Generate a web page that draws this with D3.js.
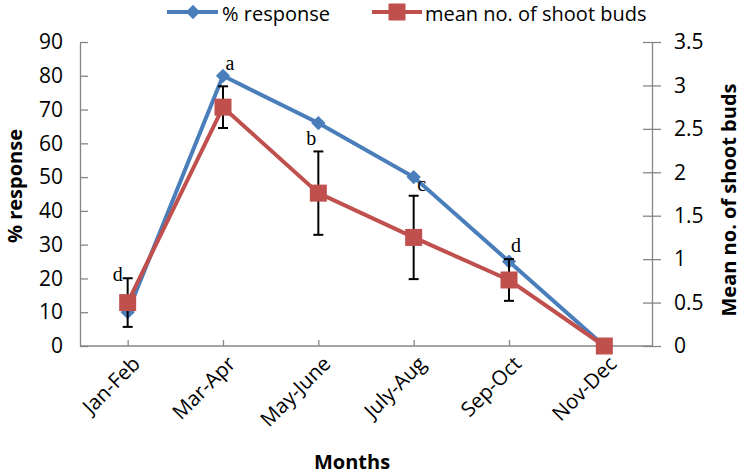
<!DOCTYPE html>
<html>
<head>
<meta charset="utf-8">
<script src="https://cdn.jsdelivr.net/npm/d3@7"></script>
<style>
  body { margin: 0; background: #fff; }
  text { font-family: "Open Sans", "Noto Sans", sans-serif; }
</style>
</head>
<body>
<script>
var months = ["Jan-Feb", "Mar-Apr", "May-June", "July-Aug", "Sep-Oct", "Nov-Dec"];
var response = [10, 80, 66, 50, 25, 0];
var shootBuds = [0.5, 2.75, 1.76, 1.25, 0.76, 0];
var shootErr = [0.28, 0.24, 0.48, 0.48, 0.24, 0];
var letters = ["d", "a", "b", "c", "d", ""];
var leftTicks = [0, 10, 20, 30, 40, 50, 60, 70, 80, 90];
var rightTicks = [0, 0.5, 1, 1.5, 2, 2.5, 3, 3.5];

var W = 742, H = 474;
var plotLeft = 80, plotRight = 652, plotTop = 42, plotBottom = 346;
var blue = "#4a7ebb", red = "#c0504d", grey = "#868686";

var svg = d3.select("body").append("svg")
    .attr("width", W).attr("height", H);

var x = d3.scalePoint().domain(months).range([plotLeft, plotRight]).padding(0.5);
var yL = d3.scaleLinear().domain([0, 90]).range([plotBottom, plotTop]);
var yR = d3.scaleLinear().domain([0, 3.5]).range([plotBottom, plotTop]);

// left axis
var gL = svg.append("g").attr("transform", "translate(" + plotLeft + ",0)")
    .call(d3.axisLeft(yL).tickValues(leftTicks).tickSizeInner(8).tickSizeOuter(0).tickPadding(9));
gL.selectAll(".tick line").attr("x2", 8);
gL.selectAll(".tick text").attr("font-size", 21).attr("fill", "#000")
    .style("font-family", "'Open Sans', sans-serif");

// right axis
var gR = svg.append("g").attr("transform", "translate(" + plotRight + ",0)")
    .call(d3.axisRight(yR).tickValues(rightTicks).tickFormat(function(d) { return String(d); })
      .tickSizeInner(9).tickSizeOuter(0).tickPadding(13));
gR.selectAll(".tick line").attr("x1", -9);
gR.selectAll(".tick text").attr("font-size", 21).attr("fill", "#000")
    .style("font-family", "'Open Sans', sans-serif");

// bottom axis
var gX = svg.append("g").attr("transform", "translate(0," + plotBottom + ")")
    .call(d3.axisBottom(x).tickSizeInner(-6).tickSizeOuter(0).tickPadding(10));
gX.select(".domain").attr("d", "M" + plotLeft + ",0H" + plotRight);
gX.selectAll(".tick text")
    .attr("font-size", 20.5).attr("fill", "#000")
    .style("font-family", "'Open Sans', sans-serif")
    .attr("text-anchor", "end")
    .attr("transform", "translate(8,14) rotate(-45)")
    .attr("dy", "0.35em").attr("y", 0).attr("x", 0);

svg.selectAll(".domain, .tick line").attr("stroke", grey).attr("stroke-width", 1.3);

// axis titles
svg.append("text")
    .attr("transform", "translate(22,186) rotate(-90)")
    .attr("text-anchor", "middle")
    .attr("font-size", 20).attr("font-weight", "bold")
    .text("% response");

svg.append("text")
    .attr("transform", "translate(736,200) rotate(-90)")
    .attr("text-anchor", "middle")
    .attr("font-size", 20).attr("font-weight", "bold")
    .text("Mean no. of shoot buds");

svg.append("text")
    .attr("x", 352).attr("y", 469)
    .attr("text-anchor", "middle")
    .attr("font-size", 20).attr("font-weight", "bold")
    .text("Months");

// response line
var lineL = d3.line().x(function(d, i) { return x(months[i]); }).y(function(d) { return yL(d); });
var lineR = d3.line().x(function(d, i) { return x(months[i]); }).y(function(d) { return yR(d); });

svg.append("path").datum(response)
    .attr("d", lineL).attr("fill", "none")
    .attr("stroke", blue).attr("stroke-width", 4);

svg.selectAll(".diamond").data(response).enter().append("path")
    .attr("class", "diamond")
    .attr("d", d3.symbol().type(d3.symbolDiamond2).size(130))
    .attr("transform", function(d, i) { return "translate(" + x(months[i]) + "," + yL(d) + ")"; })
    .attr("fill", blue);

// shoot bud line
svg.append("path").datum(shootBuds)
    .attr("d", lineR).attr("fill", "none")
    .attr("stroke", red).attr("stroke-width", 4);

// error bars
var eb = svg.selectAll(".err").data(shootBuds).enter().append("g")
    .attr("class", "err")
    .filter(function(d, i) { return shootErr[i] > 0; });
eb.append("line")
    .attr("x1", function(d, i) { return x(months[i]); })
    .attr("x2", function(d, i) { return x(months[i]); })
    .attr("y1", function(d, i) { return yR(d + shootErr[i]); })
    .attr("y2", function(d, i) { return yR(d - shootErr[i]); })
    .attr("stroke", "#000").attr("stroke-width", 2);
[1, -1].forEach(function(s) {
  eb.append("line")
      .attr("x1", function(d, i) { return x(months[i]) - 5; })
      .attr("x2", function(d, i) { return x(months[i]) + 5; })
      .attr("y1", function(d, i) { return yR(d + s * shootErr[i]); })
      .attr("y2", function(d, i) { return yR(d + s * shootErr[i]); })
      .attr("stroke", "#000").attr("stroke-width", 2);
});

svg.selectAll(".sq").data(shootBuds).enter().append("rect")
    .attr("class", "sq")
    .attr("x", function(d, i) { return x(months[i]) - 8.5; })
    .attr("y", function(d) { return yR(d) - 8.5; })
    .attr("width", 17).attr("height", 17)
    .attr("fill", red);

// significance letters (offsets from the % response point)
var letterPos = [[-10, -22], [7, -6], [-7, 22], [8, 14], [7, -10], [0, 0]];
svg.selectAll(".letter").data(letters).enter().append("text")
    .attr("class", "letter")
    .attr("x", function(d, i) { return x(months[i]) + letterPos[i][0]; })
    .attr("y", function(d, i) {
      var base = i === 0 ? yR(shootBuds[i]) : yL(response[i]);
      return base + letterPos[i][1];
    })
    .attr("text-anchor", "middle")
    .attr("font-size", 20)
    .style("font-family", "'Liberation Serif', 'Times New Roman', serif")
    .text(function(d) { return d; });

// legend
var leg = svg.append("g");
leg.append("line").attr("x1", 167).attr("x2", 218).attr("y1", 12).attr("y2", 12)
    .attr("stroke", blue).attr("stroke-width", 4);
leg.append("path").attr("d", d3.symbol().type(d3.symbolDiamond2).size(130))
    .attr("transform", "translate(193,12)").attr("fill", blue);
leg.append("text").attr("x", 222).attr("y", 21).attr("font-size", 20).text("% response");

leg.append("line").attr("x1", 372).attr("x2", 422).attr("y1", 12).attr("y2", 12)
    .attr("stroke", red).attr("stroke-width", 4);
leg.append("rect").attr("x", 388.5).attr("y", 3.5).attr("width", 17).attr("height", 17)
    .attr("fill", red);
leg.append("text").attr("x", 425).attr("y", 21).attr("font-size", 20).text("mean no. of shoot buds");
</script>
</body>
</html>
